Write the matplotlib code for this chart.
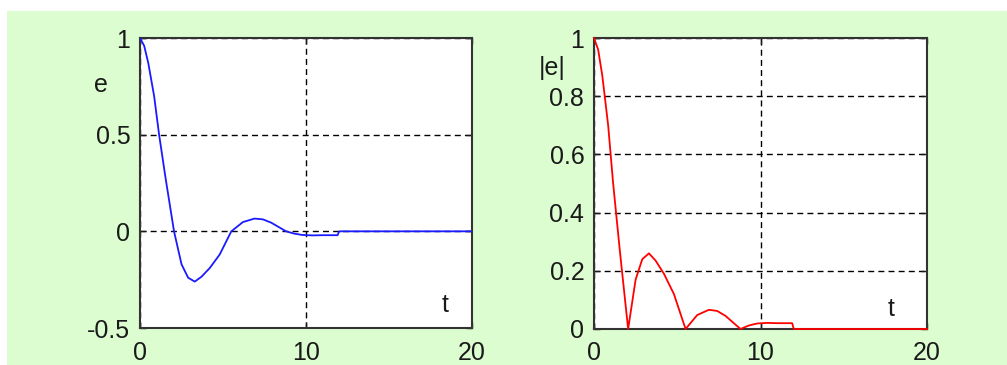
import matplotlib
matplotlib.use('Agg')
import matplotlib.pyplot as plt
import numpy as np
from matplotlib.patches import Rectangle

# values
t = [0, 0.25, 0.5, 0.85, 1.15, 1.55, 2.05, 2.5, 2.9, 3.3, 3.7, 4.2, 4.8, 5.5,
     6.2, 6.9, 7.4, 7.9, 8.4, 8.8, 9.3, 9.8, 10.4, 11.0, 11.9, 12.0, 20]
e = [1, 0.96, 0.87, 0.70, 0.50, 0.27, 0, -0.17, -0.24, -0.26, -0.235, -0.19, -0.12, 0,
     0.048, 0.066, 0.062, 0.045, 0.02, 0, -0.012, -0.019, -0.021, -0.02, -0.02, 0, 0]
abs_e = np.abs(e)

xticks = [0, 10, 20]
yticks_left = [-0.5, 0, 0.5, 1]
ylabels_left = ['-0.5', '0', '0.5', '1']
yticks_right = [0, 0.2, 0.4, 0.6, 0.8, 1]
ylabels_right = ['0', '0.2', '0.4', '0.6', '0.8', '1']

plt.rcParams['font.family'] = ['Liberation Sans', 'DejaVu Sans']
W, H = 1007, 365
fig = plt.figure(figsize=(W / 100, H / 100), dpi=100)
fig.patch.set_facecolor('white')
fig.patches.append(Rectangle((7 / W, 0), 1 - 7 / W, 1 - 11 / H, transform=fig.transFigure,
                             facecolor='#dcfdd0', edgecolor='none', zorder=-10))

grid_style = dict(color='black', linestyle=(0, (4.3, 3.0)), linewidth=1.0)


def setup(ax, yticks, ylabels, ylim):
    ax.set_xlim(0, 20)
    ax.set_ylim(*ylim)
    ax.set_xticks(xticks)
    ax.set_xticklabels([str(v) for v in xticks])
    ax.set_yticks(yticks)
    ax.set_yticklabels(ylabels)
    ax.tick_params(direction='in', length=4, width=1, labelsize=18, colors='#1a1a1a',
                   top=True, right=True, pad=7)
    ax.tick_params(axis='x', pad=9)
    ax.grid(True, **grid_style)
    ax.set_axisbelow(True)
    for s in ax.spines.values():
        s.set_linewidth(1.5)
        s.set_color('#333333')
    ax.set_facecolor('white')


ax1 = fig.add_axes([140 / W, 1 - 328 / H, 332 / W, 290 / H])
ax1.plot(t, e, color='#1a1aff', linewidth=1.3, zorder=3)
setup(ax1, yticks_left, ylabels_left, (-0.5, 1))

ax2 = fig.add_axes([594 / W, 1 - 329 / H, 333 / W, 291 / H])
ax2.plot(t, abs_e, color='#ff0000', linewidth=1.3, clip_on=False, zorder=3)
setup(ax2, yticks_right, ylabels_right, (0, 1))

fig.text(101 / W, 1 - 85 / H, 'e', fontsize=18, ha='center', va='center', color='#1a1a1a')
fig.text(445 / W, 1 - 305 / H, 't', fontsize=18, ha='center', va='center', color='#1a1a1a')
fig.text(552 / W, 1 - 68 / H, '|e|', fontsize=18, ha='center', va='center', color='#1a1a1a')
fig.text(891 / W, 1 - 309 / H, 't', fontsize=18, ha='center', va='center', color='#1a1a1a')

fig.savefig('out.png', dpi=100, facecolor=fig.get_facecolor())
